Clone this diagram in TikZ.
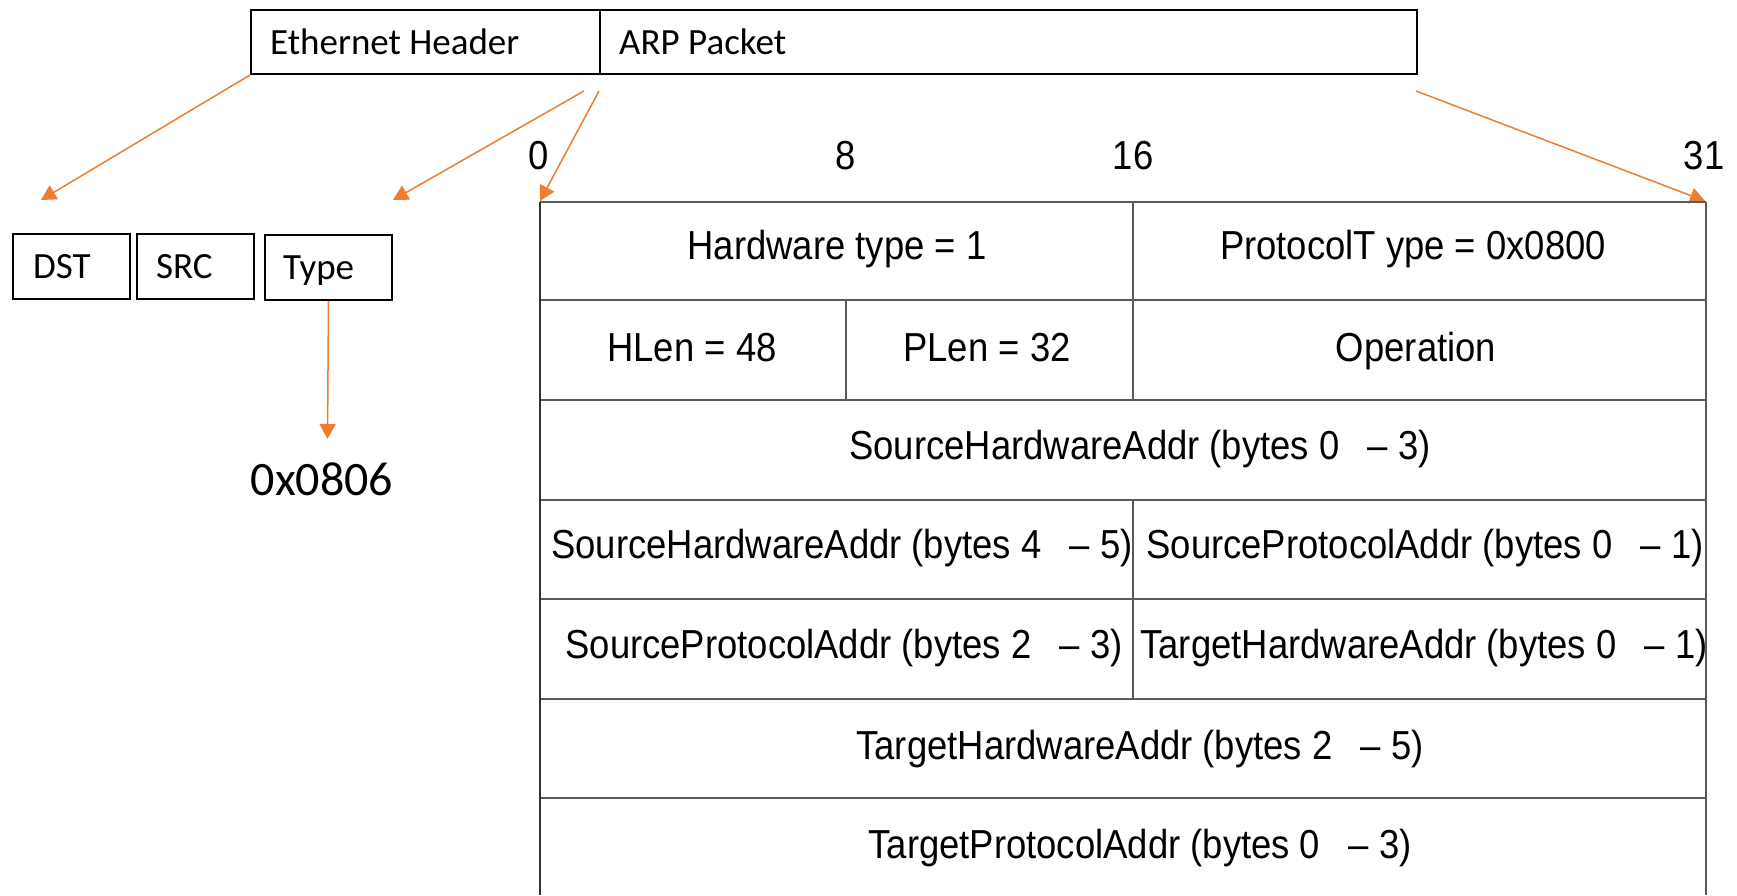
\documentclass[tikz,border=0pt]{standalone}
\usepackage{fontspec}
\setmainfont{Carlito}
\newfontfamily\tabfont{Liberation Sans}[FakeStretch=0.9]
\usetikzlibrary{arrows.meta}
\definecolor{arrorange}{HTML}{ED7D31}
\definecolor{tabline}{HTML}{5A5A5A}
\newcommand{\bgap}{\hspace{0.7em}}
\begin{document}
\begin{tikzpicture}[x=1pt,y=-1pt,
  hbox/.style={draw=black,line width=2pt,rectangle,inner sep=0pt,anchor=north west},
  lbl/.style={anchor=base west,inner sep=0pt,font=\fontsize{37}{44}\selectfont},
  tab/.style={anchor=base,inner sep=0pt,font=\tabfont\fontsize{40.5}{48}\selectfont},
  conn/.style={draw=arrorange,line width=1.5pt,-{Triangle[length=15pt,width=16pt]}},
  rule/.style={draw=tabline,line width=2pt}
]
\useasboundingbox (0,0) rectangle (1737,895);
\fill[white] (0,0) rectangle (1737,895);

% top header boxes
\node[hbox,minimum width=349pt,minimum height=64pt] (eth) at (250,9) {};
\node[hbox,minimum width=817pt,minimum height=64pt] (arp) at (599,9) {};
\node[lbl] (ethtxt) at (270,54) {Ethernet Header};
\node[lbl] (arptxt) at (619,54) {ARP Packet};

% ethernet fields
\node[hbox,minimum width=117pt,minimum height=65pt] (dst) at (12,233) {};
\node[hbox,minimum width=117pt,minimum height=65pt] (src) at (136,233) {};
\node[hbox,minimum width=127pt,minimum height=65pt] (type) at (264,234) {};
\node[lbl] (dsttxt) at (33,278) {DST};
\node[lbl] (srctxt) at (156,278) {SRC};
\node[lbl] (typetxt) at (283,279) {Type};
\node[anchor=base,inner sep=0pt,font=\fontsize{48}{57}\selectfont] (val) at (322,495) {0x0806};

% connector end points
\coordinate (dsttip) at (41,200);
\coordinate (a2s) at (584,91);
\coordinate (fldtip) at (393,200);
\coordinate (a3s) at (599,91);
\coordinate (tabl) at (540,201);
\coordinate (a4s) at (1416,91);
\coordinate (tabr) at (1705,201);
\coordinate (valtip) at (327.5,439);

\draw[conn] (eth.south west) -- (dsttip);
\draw[conn] (a2s) -- (fldtip);
\draw[conn] (a3s) -- (tabl);
\draw[conn] (a4s) -- (tabr);
\draw[conn] (type.south) -- (valtip);

% bit numbers
\node[tab] (b0) at (539,169) {0};
\node[tab] (b8) at (846,169) {8};
\node[tab] (b16) at (1133,169) {16};
\node[tab] (b31) at (1704,169) {31};

% table rules
\foreach \yy in {202,300,400,500,599,699,798}
  \draw[rule] (540,\yy) -- (1706,\yy);
\draw[rule,draw=black!80] (540,202) -- (540,895);
\draw[rule] (1706,202) -- (1706,895);
\draw[rule] (1133,202) -- (1133,400);
\draw[rule] (846,300) -- (846,400);
\draw[rule] (1133,500) -- (1133,699);

% table texts
\node[tab] (r1a) at (837,259) {Hardware type = 1};
\node[tab] (r1b) at (1413,259) {ProtocolT ype = 0x0800};
\node[tab] (r2a) at (692,361) {HLen = 48};
\node[tab] (r2b) at (987,361) {PLen = 32};
\node[tab] (r2c) at (1416,361) {Operation};
\node[tab] (r3) at (1140,459) {SourceHardwareAddr (bytes 0\bgap–\ 3)};
\node[tab] (r4a) at (842,558) {SourceHardwareAddr (bytes 4\bgap–\ 5)};
\node[tab] (r4b) at (1425,558) {SourceProtocolAddr (bytes 0\bgap–\ 1)};
\node[tab] (r5a) at (844,658) {SourceProtocolAddr (bytes 2\bgap–\ 3)};
\node[tab] (r5b) at (1424,658) {TargetHardwareAddr (bytes 0\bgap–\ 1)};
\node[tab] (r6) at (1140,759) {TargetHardwareAddr (bytes 2\bgap–\ 5)};
\node[tab] (r7) at (1140,858) {TargetProtocolAddr (bytes 0\bgap–\ 3)};
\end{tikzpicture}
\end{document}
